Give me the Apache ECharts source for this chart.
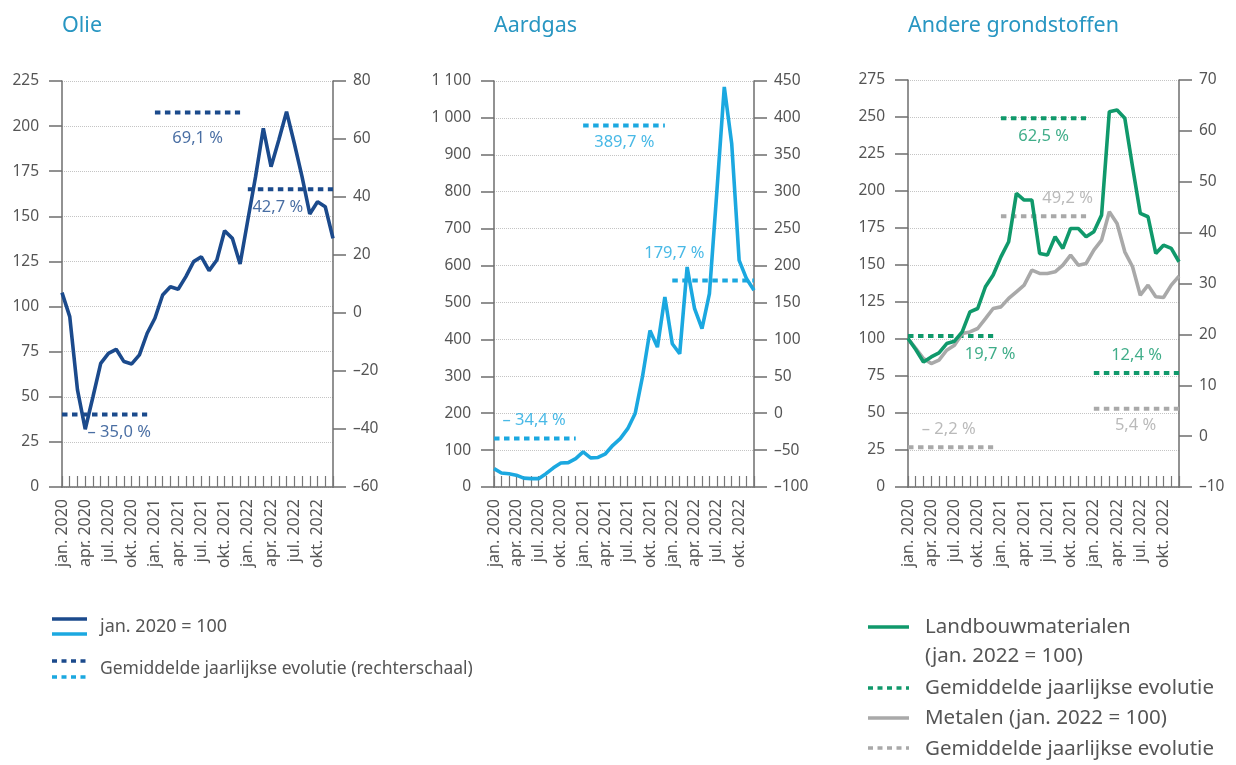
<!DOCTYPE html>
<html>
<head>
<meta charset="utf-8">
<script src="https://cdn.jsdelivr.net/npm/echarts@6/dist/echarts.min.js"></script>
<style>
  html, body { margin: 0; padding: 0; background: #fff; }
  #chart { width: 1236px; height: 765px; }
</style>
</head>
<body>
<div id="chart"></div>
<script>
// maanden jan. 2020 - dec. 2022
const monthNames = ['jan.', 'feb.', 'mrt.', 'apr.', 'mei', 'jun.', 'jul.', 'aug.', 'sep.', 'okt.', 'nov.', 'dec.'];
const years = [2020, 2021, 2022];
const categories = [];
years.forEach(y => monthNames.forEach(m => categories.push(m + ' ' + y)));

// index jan. 2020 = 100
const olie = [107.7, 94.4, 53.8, 32, 50, 68.5, 74.1, 76.3, 69.5, 68.2, 73.2, 85.2,
  93.5, 106.4, 111, 109.6, 116.6, 124.9, 127.6, 119.9, 125.8, 142, 137.8, 123.6,
  148, 172, 198.8, 177.5, 192.3, 208, 190.5, 172, 151.3, 158.1, 155.3, 137.8];
const aardgas = [49.7, 38, 36, 32, 24, 22.6, 22.6, 36, 52, 65, 66, 77,
  95, 79, 80, 90, 113, 131, 158, 199, 300, 424, 379, 515,
  388, 361, 596, 483, 429, 524, 800, 1084, 930, 614, 564, 533];
// jan. 2022 = 100
const landbouw = [100.3, 92.9, 84.5, 87.9, 90.6, 96.9, 98.5, 104.8, 118.3, 120.6, 135.3, 143.2,
  155.5, 165.7, 198.4, 193.9, 193.9, 157.8, 156.7, 169.1, 161.2, 174.7, 174.7, 169.1,
  172.5, 183.7, 253.6, 254.7, 249.1, 216.4, 184.9, 182.6, 157.8, 163.4, 161.2, 152.2];
const metalen = [100.3, 93.6, 86.8, 83.4, 85.7, 92.4, 95.8, 103.7, 104.8, 107.1, 113.8, 120.6,
  121.7, 127.4, 131.9, 136.4, 146.5, 144.3, 144.3, 145.4, 149.9, 156.7, 149.9, 151,
  160, 166.8, 186, 178.1, 158.9, 148.8, 129.6, 136.4, 128.5, 128, 136.4, 142.5];

// gemiddelde jaarlijkse evolutie (rechterschaal), per jaar 2020, 2021, 2022
const olieAvg = [-35.0, 69.1, 42.7];
const olieAvgText = ['– 35,0 %', '69,1 %', '42,7 %'];
const aardgasAvg = [-34.4, 389.7, 179.7];
const aardgasAvgText = ['– 34,4 %', '389,7 %', '179,7 %'];
const landbouwAvg = [19.7, 62.5, 12.4];
const landbouwAvgText = ['19,7 %', '62,5 %', '12,4 %'];
const metalenAvg = [-2.2, 43.2, 5.4];   // zoals getekend
const metalenAvgText = ['– 2,2 %', '49,2 %', '5,4 %'];

const DARK = '#1b4a8c';
const LIGHT = '#1ba8e0';
const GREEN = '#10996b';
const GREY = '#a9a9a9';
const TEAL = '#2896c2';
const TXT = '#555';
const FONT = 'Noto Sans';
const DOTS = [5.5, 4.5];

const grids = [
  { left: 62, top: 81, width: 271, height: 406 },
  { left: 494, top: 81, width: 260, height: 406 },
  { left: 908, top: 80, width: 271, height: 407 }
];
const leftScale = [[0, 225, 25], [0, 1100, 100], [0, 275, 25]];
const rightScale = [[-60, 80, 20], [-100, 450, 50], [-10, 70, 10]];

// label anchor (category index) and pixel offset for each average label
const labelPos = [
  [[7, 3, 18], [17, 4, 26], [28, -1, 18]],
  [[5, 3, -18], [17, 4, 17], [24, 2, -27]],
  [[11, -3, 18], [17, 4, 18], [29, 4, -18]],
  [[5, 2, -18], [21, -3, -18], [29, 3, 17]]
];

function fmtNum(v) {
  let s = String(Math.abs(v));
  if (Math.abs(v) >= 1000) s = s.slice(0, -3) + ' ' + s.slice(-3);
  return (v < 0 ? '–' : '') + s;
}

const xAxes = grids.map((g, i) => ({
  type: 'category', gridIndex: i, data: categories, boundaryGap: false,
  axisLine: { lineStyle: { color: '#6e6e6e', width: 1.5 } },
  axisTick: { inside: true, length: 11, interval: 0, lineStyle: { color: '#777', width: 1.2 } },
  axisLabel: { interval: 2, rotate: 90, margin: 12, color: TXT, fontSize: 16, fontFamily: FONT },
  splitLine: { show: false }
}));

const yAxes = [];
grids.forEach((g, i) => {
  yAxes.push({
    type: 'value', gridIndex: i, position: 'left',
    min: leftScale[i][0], max: leftScale[i][1], interval: leftScale[i][2],
    axisLine: { show: true, lineStyle: { color: '#6e6e6e', width: 1.5 } },
    axisTick: { show: true, length: 13, lineStyle: { color: '#6e6e6e', width: 1.5 } },
    axisLabel: { margin: 23, color: TXT, fontSize: 15.5, fontFamily: FONT, formatter: fmtNum },
    splitLine: { show: true, lineStyle: { type: 'dotted', color: '#c4c4c4', width: 1 } }
  });
  yAxes.push({
    type: 'value', gridIndex: i, position: 'right',
    min: rightScale[i][0], max: rightScale[i][1], interval: rightScale[i][2],
    axisLine: { show: true, lineStyle: { color: '#6e6e6e', width: 1.5 } },
    axisTick: { show: true, length: 13, lineStyle: { color: '#6e6e6e', width: 1.5 } },
    axisLabel: { margin: 20, color: TXT, fontSize: 15.5, fontFamily: FONT, formatter: fmtNum },
    splitLine: { show: false }
  });
});

const series = [];
function mainLine(data, panel, color, z) {
  series.push({
    type: 'line', xAxisIndex: panel, yAxisIndex: panel * 2, data: data,
    symbol: 'none', lineStyle: { color: color, width: 3.6 }, z: z || 3, silent: true
  });
}
function avgLines(vals, texts, panel, color, pos) {
  vals.forEach((v, k) => {
    const d = categories.map((c, j) => (j >= k * 12 && j < k * 12 + 12 ? v : null));
    series.push({
      type: 'line', xAxisIndex: panel, yAxisIndex: panel * 2 + 1, data: d,
      symbol: 'none', connectNulls: false, silent: true, z: 2,
      lineStyle: { color: color, width: 4, type: DOTS, cap: 'butt' }
    });
    series.push({
      type: 'scatter', xAxisIndex: panel, yAxisIndex: panel * 2 + 1,
      data: [[pos[k][0], v]], symbolSize: 1, itemStyle: { color: 'rgba(0,0,0,0)' }, silent: true, z: 4,
      label: {
        show: true, position: 'inside', offset: [pos[k][1], pos[k][2]],
        formatter: texts[k], color: color, fontSize: 16.5, fontFamily: FONT
      }
    });
  });
}

mainLine(olie, 0, DARK);
avgLines(olieAvg, olieAvgText, 0, DARK, labelPos[0]);
mainLine(aardgas, 1, LIGHT);
avgLines(aardgasAvg, aardgasAvgText, 1, LIGHT, labelPos[1]);
mainLine(metalen, 2, GREY, 3);
mainLine(landbouw, 2, GREEN, 4);
avgLines(landbouwAvg, landbouwAvgText, 2, GREEN, labelPos[2]);
avgLines(metalenAvg, metalenAvgText, 2, GREY, labelPos[3]);

// legenda
function legLine(x, y, w, color, dotted) {
  return {
    type: 'line', shape: { x1: x, y1: y, x2: x + w, y2: y },
    style: { stroke: color, lineWidth: 3.5, lineDash: dotted ? [5, 4.5] : null }
  };
}
function legText(x, y, t, size) {
  return {
    type: 'text', x: x, y: y,
    style: { text: t, fill: TXT, font: size + 'px "' + FONT + '"', verticalAlign: 'middle' }
  };
}
const graphic = [
  legLine(52, 619, 35, DARK), legLine(52, 634, 35, LIGHT),
  legText(100, 627, 'jan. 2020 = 100', 18),
  legLine(52, 661, 35, DARK, true), legLine(52, 677, 35, LIGHT, true),
  legText(100, 669, 'Gemiddelde jaarlijkse evolutie (rechterschaal)', 17.5),
  legLine(868, 627, 41, GREEN),
  legText(925, 627, 'Landbouwmaterialen', 20.5),
  legText(925, 656, '(jan. 2022 = 100)', 20.5),
  legLine(868, 688, 41, GREEN, true),
  legText(925, 688, 'Gemiddelde jaarlijkse evolutie', 20.5),
  legLine(868, 718, 41, GREY),
  legText(925, 718, 'Metalen (jan. 2022 = 100)', 20.5),
  legLine(868, 748, 41, GREY, true),
  legText(925, 749, 'Gemiddelde jaarlijkse evolutie', 20.5)
];

const titleStyle = { color: TEAL, fontSize: 21.5, fontWeight: 'normal', fontFamily: FONT };
const option = {
  animation: false,
  backgroundColor: '#fff',
  title: [
    { text: 'Olie', left: 62, top: 15, padding: 0, textStyle: titleStyle },
    { text: 'Aardgas', left: 494, top: 15, padding: 0, textStyle: titleStyle },
    { text: 'Andere grondstoffen', left: 908, top: 15, padding: 0, textStyle: titleStyle }
  ],
  grid: grids,
  xAxis: xAxes,
  yAxis: yAxes,
  series: series,
  graphic: graphic
};

echarts.init(document.getElementById('chart')).setOption(option);
</script>
</body>
</html>
